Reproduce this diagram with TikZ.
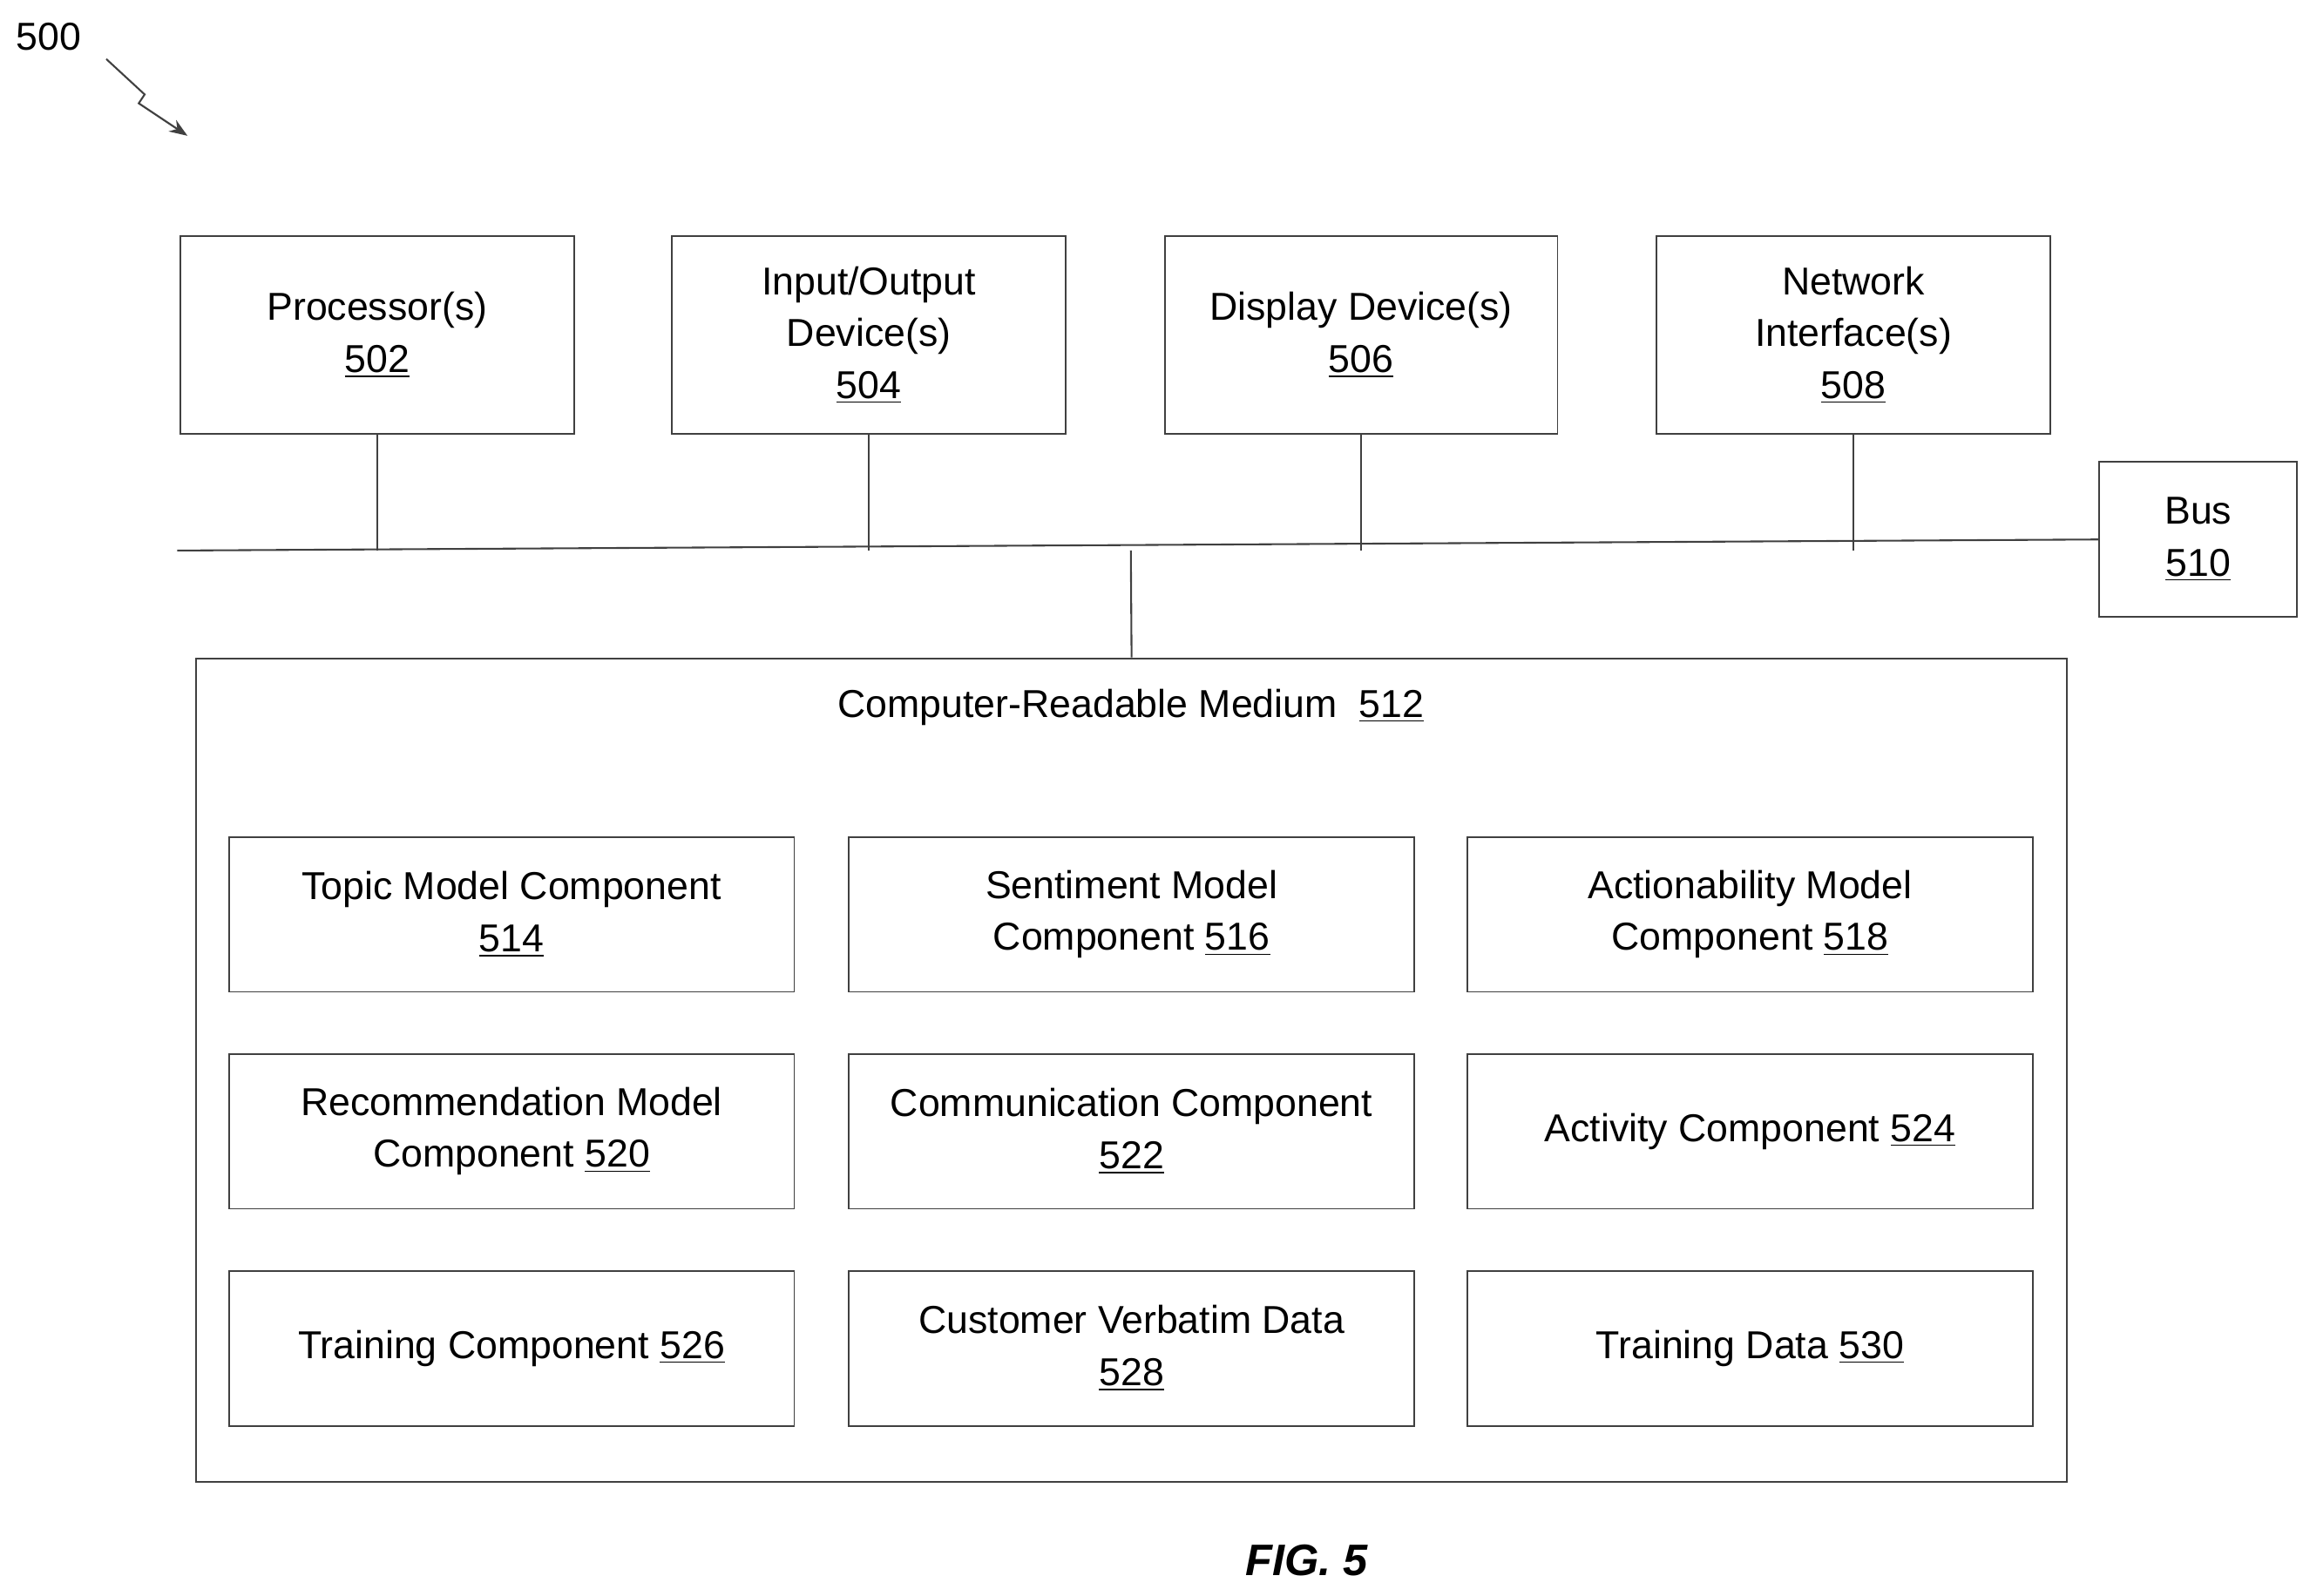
\documentclass[tikz,border=0pt]{standalone}
\usepackage{fontspec}
\setmainfont{Liberation Sans}
\usetikzlibrary{arrows.meta}
\begin{document}
\begin{tikzpicture}[x=0.02cm,y=-0.02cm,
  box/.style={draw=black!75,line width=0.6pt,align=center,inner sep=0pt,font=\fontsize{15}{20}\selectfont},
  ln/.style={draw=black!75,line width=0.7pt}]
\useasboundingbox (0,0) rectangle (1560,1081);
\newcommand\mybox[6]{\node[box,minimum width=#4*0.02cm-#2*0.02cm,minimum height=#5*0.02cm-#3*0.02cm] (#1) at ({(#2+#4)/2},{(#3+#5)/2}) {#6};}
\mybox{p}{122}{160}{389}{294}{Processor(s)\\\underline{502}}
\mybox{io}{455}{160}{722}{294}{Input/Output\\Device(s)\\\underline{504}}
\mybox{d}{789}{160}{1055}{294}{Display Device(s)\\\underline{506}}
\mybox{n}{1122}{160}{1389}{294}{Network\\Interface(s)\\\underline{508}}
\mybox{bus}{1422}{313}{1556}{418}{Bus\\\underline{510}}
\node[draw=black!75,line width=0.7pt,minimum width=1267*0.02cm,minimum height=558*0.02cm,inner sep=0pt] (crm) at (766.5,725) {};
\node[font=\fontsize{15}{20}\selectfont] (crmt) at (766,479) {Computer-Readable Medium\ \ \underline{512}};
\coordinate (bl) at (120,373);
\coordinate (bj) at (766,373);
\draw[ln] (bl) -- (bus.west);
\foreach \b in {p,io,d,n} \draw[ln] (\b.south) -- (\b.south |- bl);
\draw[ln] (bj) -- (crm.north);
\mybox{c1}{155}{567}{538}{672}{Topic Model Component\\\underline{514}}
\mybox{c2}{575}{567}{958}{672}{Sentiment Model\\Component \underline{516}}
\mybox{c3}{994}{567}{1377}{672}{Actionability Model\\Component \underline{518}}
\mybox{c4}{155}{714}{538}{819}{Recommendation Model\\Component \underline{520}}
\mybox{c5}{575}{714}{958}{819}{Communication Component\\\underline{522}}
\mybox{c6}{994}{714}{1377}{819}{Activity Component \underline{524}}
\mybox{c7}{155}{861}{538}{966}{Training Component \underline{526}}
\mybox{c8}{575}{861}{958}{966}{Customer Verbatim Data\\\underline{528}}
\mybox{c9}{994}{861}{1377}{966}{Training Data \underline{530}}
\node[font=\fontsize{17}{20}\selectfont\bfseries\itshape] (fig) at (885,1057) {FIG. 5};
\node[font=\fontsize{15}{20}\selectfont] (lab) at (33,25) {500};
\coordinate (a1) at (72,40); \coordinate (a2) at (127,92);
\draw[ln,-{Stealth[length=7pt]}] (a1) -- (98,64) -- (94,70) -- (a2);
\end{tikzpicture}
\end{document}
